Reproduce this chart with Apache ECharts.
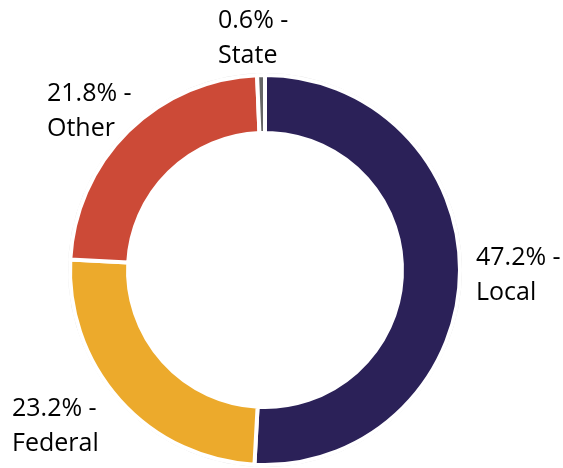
<!DOCTYPE html>
<html>
<head>
<meta charset="utf-8">
<script src="https://cdn.jsdelivr.net/npm/echarts@6/dist/echarts.min.js"></script>
<style>
  html, body { margin: 0; padding: 0; background: #fff; }
  #main { width: 563px; height: 468px; }
</style>
</head>
<body>
<div id="main"></div>
<script>
// 数据
var categories = ["Local", "Federal", "Other", "State"];
var shares = [47.2, 23.2, 21.8, 0.6];

// 颜色
var colors = ["#2b2158", "#ecaa2c", "#cc4a37", "#666666"];

// 标签位置 (左边缘, 垂直中心)
var labelSpots = [
  [476, 275],
  [12, 426],
  [47, 111],
  [218, 38]
];

var myChart = echarts.init(document.getElementById("main"));

var pieData = categories.map(function (name, i) {
  return { name: name, value: shares[i], itemStyle: { color: colors[i] } };
});

var option = {
  animation: false,
  series: [
    // 外圈细灰线
    {
      type: "pie",
      silent: true,
      z: 1,
      center: [265, 270],
      radius: [0, 196.5],
      label: { show: false },
      labelLine: { show: false },
      itemStyle: { color: "rgba(0,0,0,0)", borderColor: "#dcdcdc", borderWidth: 1 },
      data: [{ value: 1, name: "" }]
    },
    {
      type: "pie",
      z: 2,
      center: [265, 270],
      radius: [137, 195],
      startAngle: 90,
      clockwise: true,
      itemStyle: { borderColor: "#ffffff", borderWidth: 4 },
      label: {
        show: true,
        position: "outside",
        alignTo: "none",
        overflow: "none",
        formatter: function (p) {
          return p.value + "% -\n" + p.name;
        },
        fontFamily: "Open Sans",
        fontSize: 25,
        lineHeight: 35,
        color: "#000000"
      },
      labelLine: { show: false },
      labelLayout: function (p) {
        var s = labelSpots[p.dataIndex];
        return { x: s[0], y: s[1], align: "left", verticalAlign: "middle", width: 120 };
      },
      data: pieData
    }
  ]
};

myChart.setOption(option);
</script>
</body>
</html>
